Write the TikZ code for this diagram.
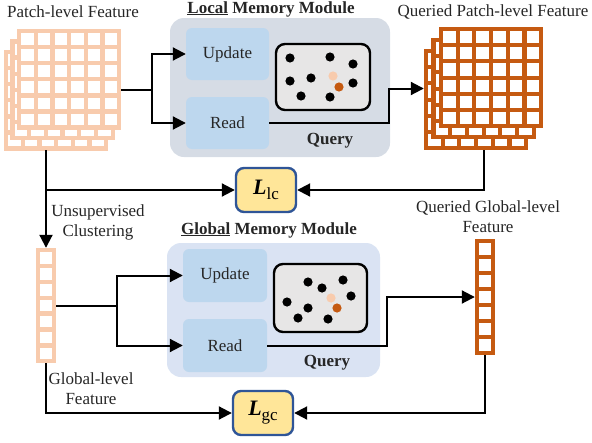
\documentclass[tikz,border=0pt]{standalone}
\usepackage{fontspec}
\setmainfont{Liberation Serif}
\usetikzlibrary{arrows.meta}
\definecolor{lorange}{HTML}{F8CBAD}
\definecolor{dorange}{HTML}{C55A11}
\definecolor{localbg}{HTML}{D6DCE5}
\definecolor{globalbg}{HTML}{DAE3F3}
\definecolor{opfill}{HTML}{BDD7EE}
\definecolor{membg}{HTML}{E7E6E6}
\definecolor{lossfill}{HTML}{FFE699}
\definecolor{lossdraw}{HTML}{2F5597}
\definecolor{txt}{HTML}{262626}
% #1 x0, #2 y0, #3 cols, #4 rows, #5 cell w, #6 cell h, #7 style
\newcommand\drawgrid[7]{%
  \fill[white] (#1,#2) rectangle ++(#3*#5,#4*#6);
  \foreach \i in {0,...,#3}{\draw[#7] (#1+\i*#5,#2) -- ++(0,#4*#6);}
  \foreach \j in {0,...,#4}{\draw[#7] (#1,#2+\j*#6) -- ++(#3*#5,0);}
}
\newcommand\Lsym[1]{\textbf{\textit{\fontsize{22}{22}\selectfont L}}\raisebox{-5pt}{\fontsize{17}{17}\selectfont #1}}
\tikzset{
  lgrid/.style={draw=lorange,line width=4.3pt,line cap=rect},
  dgrid/.style={draw=dorange,line width=4.1pt,line cap=rect},
  lbl/.style={font=\fontsize{17}{20}\selectfont,text=txt,align=center,inner sep=0pt},
  ttl/.style={font=\fontsize{17}{20}\selectfont\bfseries,text=txt,align=center,inner sep=0pt},
  module/.style={rounded corners=14pt,inner sep=0pt},
  opbox/.style={fill=opfill,rounded corners=6pt,inner sep=0pt,font=\fontsize{17}{20}\selectfont,text=txt},
  membox/.style={draw=black,fill=membg,line width=2.4pt,rounded corners=9pt,inner sep=0pt},
  lossbox/.style={fill=lossfill,draw=lossdraw,line width=2.4pt,rounded corners=8pt,inner sep=0pt,minimum width=60pt,minimum height=44pt},
  stack/.style={inner sep=0pt,draw=none},
  conn/.style={line width=2pt,draw=black},
  arr/.style={conn,-{Triangle[length=13pt,width=13pt]}},
}
\begin{document}
\begin{tikzpicture}[x=1pt,y=-1pt]
\useasboundingbox (0,0) rectangle (592,442);

% ---------- module backgrounds ----------
\node[module,fill=localbg,minimum width=220pt,minimum height=139pt] (lmod) at (280,87.5) {};
\node[module,fill=globalbg,minimum width=213pt,minimum height=134pt] (gmod) at (273.5,310) {};

% ---------- patch-level feature stack ----------
\drawgrid{6}{52}{6}{6}{16.7}{16.1}{lgrid}
\drawgrid{12.5}{41.5}{6}{6}{16.7}{16.1}{lgrid}
\drawgrid{19}{31}{6}{6}{16.7}{16.1}{lgrid}
\node[stack,minimum width=117pt,minimum height=121pt] (pstack) at (62.5,89.5) {};

% ---------- queried patch-level feature stack ----------
\drawgrid{426}{51}{6}{6}{16.7}{16.2}{dgrid}
\drawgrid{433.5}{40}{6}{6}{16.7}{16.2}{dgrid}
\drawgrid{441}{29}{6}{6}{16.7}{16.2}{dgrid}
\node[stack,minimum width=119pt,minimum height=123pt] (qstack) at (483.5,88.5) {};

% ---------- global-level feature columns ----------
\drawgrid{38}{250}{1}{7}{16}{15.9}{lgrid}
\node[stack,minimum width=20pt,minimum height=115pt] (gcol) at (46,305.5) {};
\drawgrid{477}{241}{1}{7}{16}{16}{dgrid}
\node[stack,minimum width=20pt,minimum height=116pt] (qcol) at (485,297) {};

% ---------- local memory module ----------
\node[opbox,minimum width=83pt,minimum height=52pt] (lupd) at (227.5,54) {Update};
\node[opbox,minimum width=83pt,minimum height=52pt] (lread) at (227.5,123) {Read};
\node[membox,minimum width=94pt,minimum height=66pt] (lmem) at (323,77) {};
\foreach \p in {(290,58),(330,57),(353,64),(290,81),(311,78),(353,83),(301,96),(330,97)}
  \fill[black] \p circle (4.6pt);
\fill[lorange] (333,76) circle (4.6pt);
\fill[dorange] (339,87) circle (4.6pt);
\node[ttl] (lquery) at (330,141) {Query};

% ---------- global memory module ----------
\node[opbox,minimum width=84pt,minimum height=53pt] (gupd) at (225,275.5) {Update};
\node[opbox,minimum width=84pt,minimum height=53pt] (gread) at (225,345.5) {Read};
\node[membox,minimum width=93pt,minimum height=68pt] (gmem) at (320.5,298) {};
\foreach \p in {(308,282),(322,288),(343,280),(287,302),(308,308),(351,296),(298,318),(328,319)}
  \fill[black] \p circle (4.6pt);
\fill[lorange] (331,298) circle (4.6pt);
\fill[dorange] (337,308) circle (4.6pt);
\node[ttl] (gquery) at (327,363) {Query};

% ---------- loss boxes ----------
\node[lossbox] (llc) at (266,190) {\Lsym{lc}};
\node[lossbox] (lgc) at (263,413) {\Lsym{gc}};

% ---------- labels ----------
\node[lbl] (tpatch) at (73,12) {Patch-level Feature};
\node[ttl] (tlocal) at (271,9) {\underline{Local} Memory Module};
\node[lbl] (tqpatch) at (493,12) {Queried Patch-level Feature};
\node[ttl] (tglobal) at (269,230) {\underline{Global} Memory Module};
\node[lbl] (tqglob) at (488,217) {Queried Global-level\\Feature};
\node[lbl] (tclust) at (98,222) {Unsupervised\\Clustering};
\node[lbl] (tgfeat) at (91,389) {Global-level\\Feature};

% ---------- connectors ----------
\coordinate (j1) at (152,0);
\coordinate (j2) at (117,0);
\coordinate (r1) at (389,0);
\coordinate (r2) at (387,0);

\draw[conn] (pstack.east) -- (pstack.east -| j1);
\draw[arr] (pstack.east -| j1) |- (lupd.west);
\draw[arr] (pstack.east -| j1) |- (lread.west);
\draw[arr] (lread.east) -- (lread.east -| r1) |- (qstack.west);

\draw[arr] (pstack.south -| gcol.north) -- (gcol.north);
\draw[arr] (gcol.north |- llc.west) -- (llc.west);
\draw[arr] (qstack.south) |- (llc.east);

\draw[conn] (gcol.east) -- (gcol.east -| j2);
\draw[arr] (gcol.east -| j2) |- (gupd.west);
\draw[arr] (gcol.east -| j2) |- (gread.west);
\draw[arr] (gread.east) -- (gread.east -| r2) |- (qcol.west);

\draw[arr] (gcol.south) |- (lgc.west);
\draw[arr] (qcol.south) |- (lgc.east);
\end{tikzpicture}
\end{document}
